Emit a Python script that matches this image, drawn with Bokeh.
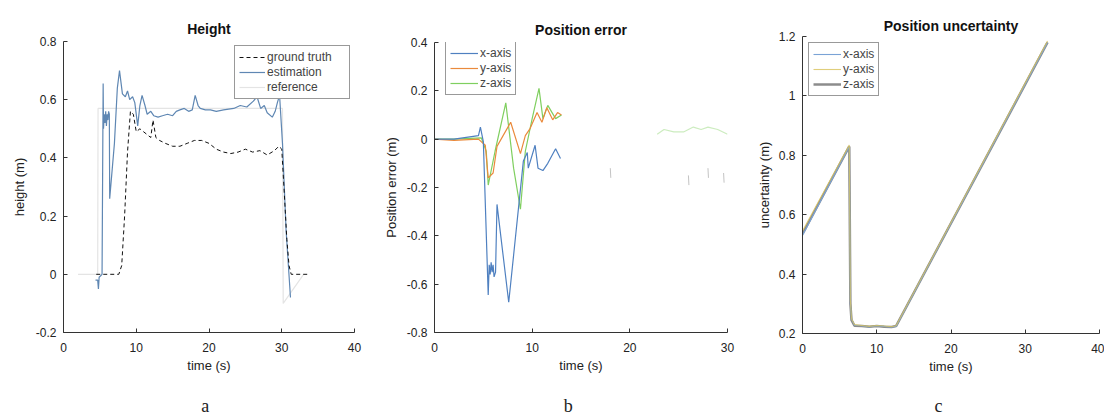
from bokeh.plotting import figure
from bokeh.layouts import row, column
from bokeh.models import Legend, LegendItem
from bokeh.core.properties import value
from bokeh.embed import file_html
from bokeh.resources import INLINE

nan = float("nan")

panel_letters = ["a", "b", "c"]

# ---------------- Panel a: Height ----------------
gt_t = [4.5, 7.6, 8.0, 8.4, 8.8, 9.2, 9.6, 10.0, 10.5, 11.0, 11.5, 12.0, 12.3, 12.7, 13.2, 14.0, 15.0, 16.0,
        17.0, 18.0, 19.0, 20.0, 21.0, 22.0, 23.0, 24.0, 25.0, 26.0, 27.0, 28.0, 29.0, 29.6, 30.0, 30.3,
        30.7, 31.0, 31.3, 33.5]
gt_h = [0.0, 0.0, 0.03, 0.2, 0.42, 0.56, 0.55, 0.49, 0.50, 0.49, 0.48, 0.47, 0.53, 0.47, 0.46, 0.45, 0.44,
        0.44, 0.45, 0.46, 0.46, 0.45, 0.43, 0.42, 0.415, 0.42, 0.43, 0.42, 0.425, 0.41, 0.425, 0.44, 0.43,
        0.3, 0.12, 0.03, 0.0, 0.0]

est_t = [4.4, 4.7, 4.8, 4.9, 5.3, 5.45, 5.5, 5.6, 5.7, 5.8, 5.9, 6.0, 6.1, 6.2, 6.3, 6.35, 7.0, 7.4, 7.7,
         8.1, 8.5, 8.8, 9.1, 9.5, 9.8, 10.2, 10.5, 10.8, 11.2, 11.5, 12.0, 12.4, 13.0, 13.6, 14.3, 15.0,
         15.5, 16.0, 16.6, 17.2, 17.7, 18.1, 18.5, 18.8, 19.5, 20.2, 21.0, 22.0, 23.4, 24.3, 25.2, 26.1,
         26.6, 27.1, 27.6, 28.0, 28.7, 29.1, 29.4, 29.7, 30.1, 30.6, 31.2]
est_h = [-0.02, -0.02, -0.05, -0.01, 0.0, 0.656, 0.5, 0.55, 0.52, 0.56, 0.51, 0.55, 0.53, 0.56, 0.55,
         0.26, 0.45, 0.64, 0.70, 0.62, 0.61, 0.63, 0.60, 0.61, 0.59, 0.51, 0.58, 0.615, 0.58, 0.55, 0.56,
         0.545, 0.54, 0.545, 0.55, 0.545, 0.56, 0.565, 0.57, 0.56, 0.565, 0.615, 0.58, 0.57, 0.565, 0.565,
         0.56, 0.565, 0.57, 0.58, 0.575, 0.595, 0.61, 0.57, 0.58, 0.555, 0.54, 0.56, 0.59, 0.615, 0.45,
         0.15, -0.08]

ref_t = [2.0, 4.7, 4.75, 30.1, 30.2, 33.0]
ref_h = [0.0, 0.0, 0.57, 0.57, -0.1, 0.0]

a_xticks = [0, 10, 20, 30, 40]
a_yticks = [-0.2, 0.0, 0.2, 0.4, 0.6, 0.8]
a_ylabels = ["-0.2", "0", "0.2", "0.4", "0.6", "0.8"]

# ---------------- Panel b: Position error ----------------
bx_t = [0.0, 2.0, 4.5, 4.7, 5.0, 5.5, 5.6, 5.7, 5.8, 5.9, 6.0, 6.1, 6.25, 6.4, 7.6, 9.1, 9.5, 9.6, 10.3, 10.6,
        11.1, 11.6, 12.4, 12.9]
bx_v = [0.0, 0.0, 0.015, 0.05, -0.01, -0.645, -0.52, -0.56, -0.51, -0.55, -0.52, -0.57, -0.55, -0.27,
        -0.675, -0.09, -0.055, -0.12, -0.025, -0.12, -0.13, -0.1, -0.04, -0.08]
by_t = [0.0, 2.0, 4.5, 5.2, 5.5, 6.0, 6.4, 7.8, 8.8, 9.3, 9.8, 10.5, 11.0, 11.5, 12.1, 12.6, 13.0]
by_v = [0.0, -0.005, 0.0, -0.025, -0.16, -0.14, -0.03, 0.07, -0.06, 0.015, 0.045, 0.11, 0.07, 0.13, 0.08,
        0.11, 0.1]
bz_t = [0.0, 2.0, 4.8, 5.3, 5.5, 6.2, 7.3, 8.1, 8.8, 9.3, 10.0, 10.7, 11.1, 11.6, 12.4, 13.0]
bz_v = [0.0, 0.0, 0.005, -0.05, -0.19, -0.05, 0.15, -0.12, -0.29, -0.05, 0.085, 0.21, 0.085, 0.14, 0.085,
        0.1]
bz_late_t = [22.8, 23.5, 24.5, 25.5, 26.5, 27.3, 28.0, 29.0, 30.0]
bz_late_v = [0.02, 0.04, 0.03, 0.03, 0.05, 0.04, 0.05, 0.04, 0.02]
bx_late_t = [18.0, 18.05, nan, 26.0, 26.05, nan, 28.0, 28.05, nan, 29.6, 29.65]
bx_late_v = [-0.12, -0.16, nan, -0.15, -0.19, nan, -0.12, -0.16, nan, -0.14, -0.18]

b_xticks = [0, 10, 20, 30]
b_yticks = [-0.8, -0.6, -0.4, -0.2, 0.0, 0.2, 0.4]
b_ylabels = ["-0.8", "-0.6", "-0.4", "-0.2", "0", "0.2", "0.4"]

# ---------------- Panel c: Position uncertainty ----------------
c_t = [0.0, 6.3, 6.45, 6.6, 7.0, 8.0, 9.0, 10.0, 11.0, 12.0, 12.6, 33.0]
cx_v = [0.53, 0.83, 0.30, 0.25, 0.228, 0.226, 0.222, 0.226, 0.224, 0.222, 0.224, 1.18]
cy_v = [0.545, 0.835, 0.31, 0.25, 0.23, 0.227, 0.224, 0.227, 0.225, 0.223, 0.226, 1.185]
cz_v = [0.535, 0.83, 0.30, 0.245, 0.226, 0.225, 0.223, 0.225, 0.223, 0.222, 0.225, 1.18]

c_xticks = [0, 10, 20, 30, 40]
c_yticks = [0.2, 0.4, 0.6, 0.8, 1.0, 1.2]
c_ylabels = ["0.2", "0.4", "0.6", "0.8", "1", "1.2"]

SANS = "Liberation Sans"
H = 378      # main plots
HL = 40      # letter strip


def base(title, width, xr, yr, xticks, yticks, ylabels, ylabel, bl, br, bt, bb,
         ylab_standoff, title_standoff):
    p = figure(width=width, height=H, x_range=xr, y_range=yr, output_backend="svg",
               toolbar_location=None, min_border_left=bl, min_border_right=br,
               min_border_top=bt, min_border_bottom=bb)
    p.frame_align = False
    p.title.text = title
    p.title.align = "center"
    p.title.text_font = SANS
    p.title.text_font_size = "14px"
    p.title.text_font_style = "bold"
    p.title.text_color = "#111111"
    p.title.standoff = title_standoff
    p.outline_line_color = None
    p.grid.visible = False
    for ax in (p.xaxis, p.yaxis):
        ax.axis_line_color = "#333333"
        ax.major_tick_line_color = "#333333"
        ax.major_tick_in = 4
        ax.major_tick_out = 0
        ax.minor_tick_line_color = None
        ax.major_label_text_font = SANS
        ax.major_label_text_font_size = "12px"
        ax.major_label_text_color = "#222222"
        ax.axis_label_text_font = SANS
        ax.axis_label_text_font_size = "13px"
        ax.axis_label_text_font_style = "normal"
        ax.axis_label_text_color = "#222222"
    p.xaxis.ticker = xticks
    p.yaxis.ticker = yticks
    p.yaxis.major_label_overrides = {v: s for v, s in zip(yticks, ylabels)}
    p.xaxis.axis_label = "time (s)"
    p.yaxis.axis_label = ylabel
    p.xaxis.major_label_standoff = 10
    p.xaxis.axis_label_standoff = 3
    p.yaxis.major_label_standoff = 7
    p.yaxis.axis_label_standoff = ylab_standoff
    return p


def letter_fig(width, xr, bl, br, letter, lx):
    q = figure(width=width, height=HL, x_range=xr, y_range=(0, HL), output_backend="svg",
               toolbar_location=None, x_axis_type=None, y_axis_type=None,
               min_border_left=bl, min_border_right=br, min_border_top=0, min_border_bottom=0)
    q.frame_align = False
    q.outline_line_color = None
    q.grid.visible = False
    q.text(x=[lx], y=[HL - 27], text=[letter], text_font=value("Liberation Serif"),
           text_font_size="18px", text_align="center", text_baseline="middle", text_color="#222222")
    return q


def style_legend(leg):
    leg.label_text_font = SANS
    leg.label_text_font_size = "12px"
    leg.label_height = 14
    leg.glyph_height = 14
    leg.glyph_width = 26
    leg.spacing = 1
    leg.padding = 4
    leg.label_standoff = 2
    leg.border_line_color = "#333333"
    leg.background_fill_alpha = 1.0


# Panel a
pa = base("Height", 370, (0, 40), (-0.2, 0.8), a_xticks, a_yticks, a_ylabels, "height (m)",
          63, 16, 41, H - 332, 6, 10)
ra = pa.line(ref_t, ref_h, line_color="#e4e4e4", line_width=1.2)
ea = pa.line(est_t, est_h, line_color="#5f87b3", line_width=1.2)
ga = pa.line(gt_t, gt_h, line_color="#111111", line_width=1, line_dash="4 3")
lega = Legend(items=[LegendItem(label="ground truth", renderers=[ga]),
                     LegendItem(label="estimation", renderers=[ea]),
                     LegendItem(label="reference", renderers=[ra])],
              location="top_right", margin=4)
style_legend(lega)
lega.label_width = 78
pa.add_layout(lega)

# Panel b
pb = base("Position error", 370, (0, 30), (-0.8, 0.4), b_xticks, b_yticks, b_ylabels, "Position error (m)",
          64, 13, 42, H - 332, 5, 10)
lz = pb.line(bz_t, bz_v, line_color="#7fcf5f", line_width=1.2)
pb.line(bz_late_t, bz_late_v, line_color="#7fcf5f", line_width=1.2, line_alpha=0.4)
ly = pb.line(by_t, by_v, line_color="#ea8a3c", line_width=1.2)
lx = pb.line(bx_t, bx_v, line_color="#4f80c0", line_width=1.2)
pb.line(bx_late_t, bx_late_v, line_color="#888888", line_width=1, line_alpha=0.5)
legb = Legend(items=[LegendItem(label="x-axis", renderers=[lx]),
                     LegendItem(label="y-axis", renderers=[ly]),
                     LegendItem(label="z-axis", renderers=[lz])],
              location=(11, 290 - 1 - 52))
style_legend(legb)
legb.glyph_width = 28
pb.add_layout(legb)

# Panel c
pc = base("Position uncertainty", 364, (0, 40), (0.2, 1.2), c_xticks, c_yticks, c_ylabels, "uncertainty (m)",
          62, 364 - 62 - 297, 36, H - 333, 4, 5)
lcz = pc.line(c_t, cz_v, line_color="#8c8c8c", line_width=2.5)
lcx = pc.line(c_t, cx_v, line_color="#7aa3d6", line_width=1.1)
lcy = pc.line(c_t, cy_v, line_color="#d8c25a", line_width=1.1, line_alpha=0.8)
legc = Legend(items=[LegendItem(label="x-axis", renderers=[lcx]),
                     LegendItem(label="y-axis", renderers=[lcy]),
                     LegendItem(label="z-axis", renderers=[lcz])],
              location="top_left", margin=6)
style_legend(legc)
legc.glyph_width = 28
pc.add_layout(legc)

la = letter_fig(370, (0, 40), 63, 16, panel_letters[0], 19.5)
lb = letter_fig(370, (0, 30), 64, 13, panel_letters[1], 13.7)
lc = letter_fig(364, (0, 40), 62, 364 - 62 - 297, panel_letters[2], 18.3)

layout = column(row(pa, pb, pc, spacing=0), row(la, lb, lc, spacing=0), spacing=0)
open("out.html", "w").write(file_html(layout, INLINE))
